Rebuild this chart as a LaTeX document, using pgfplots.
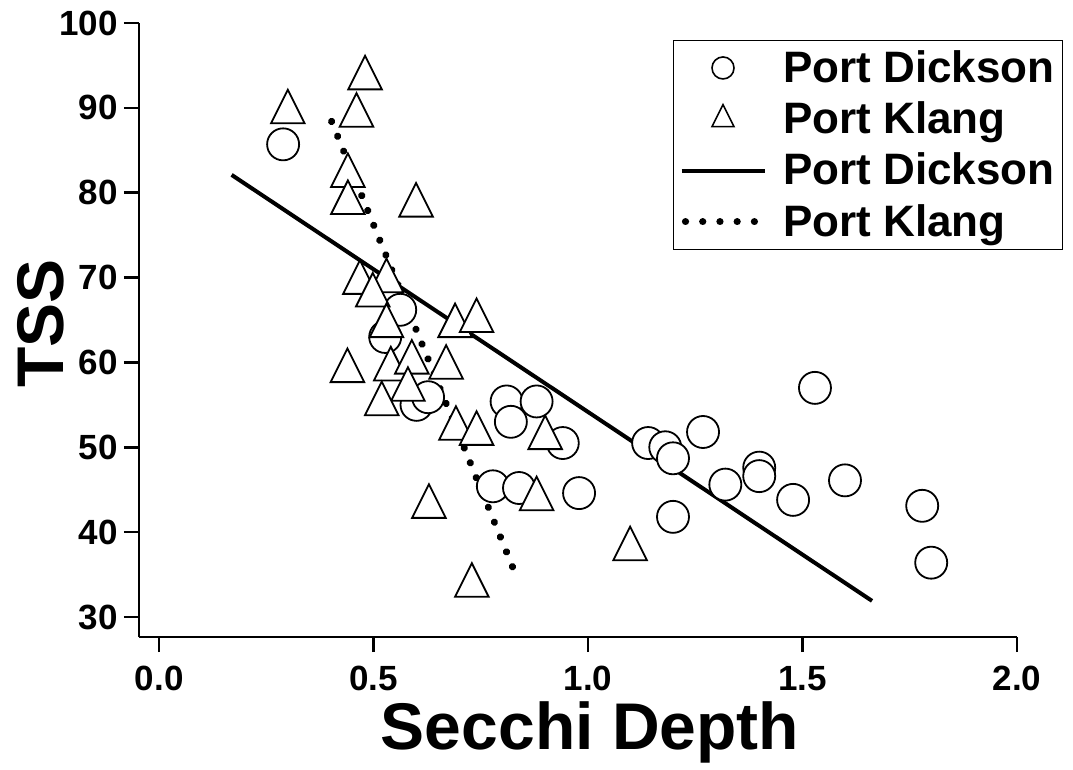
\documentclass[border=0pt]{standalone}
\usepackage{fontspec}
\setmainfont{Liberation Sans}
\usepackage{pgfplots}
\pgfplotsset{compat=1.18}
\pgfdeclareplotmark{tri}{%
  \pgfpathmoveto{\pgfqpoint{0pt}{1.3333\pgfplotmarksize}}%
  \pgfpathlineto{\pgfqpoint{-\pgfplotmarksize}{-0.6667\pgfplotmarksize}}%
  \pgfpathlineto{\pgfqpoint{\pgfplotmarksize}{-0.6667\pgfplotmarksize}}%
  \pgfpathclose
  \pgfusepathqfillstroke}
\begin{document}
\begin{tikzpicture}
\begin{axis}[
  name=ax,
  scale only axis, width=439pt, height=307pt,
  xmin=-0.047, xmax=2.0, ymin=27.64, ymax=100,
  axis lines=left, axis line style={-, line width=1.3pt},
  xtick={0,0.5,1,1.5,2}, ytick={30,40,50,60,70,80,90,100},
  tick align=outside, major tick length=7.5pt,
  tick style={line width=1.3pt, black},
  /pgf/number format/assume math mode=true,
  every tick label/.append style={font=\fontsize{17.5}{20}\selectfont\bfseries},
  xticklabel style={/pgf/number format/fixed, /pgf/number format/fixed zerofill, /pgf/number format/precision=1, inner sep=0pt, anchor=north, yshift=-7pt},
  yticklabel style={inner sep=0pt, anchor=east, xshift=-3pt},
  xlabel={Secchi Depth},
  ylabel={TSS},
  xlabel style={at={(axis description cs:0.5137,-0.184)}, anchor=base, font=\fontsize{33}{36}\selectfont\bfseries},
  ylabel style={at={(axis description cs:-0.1116,0.511)}, anchor=center, rotate=0, font=\fontsize{33}{36}\selectfont\bfseries},
  legend style={at={(rel axis cs:1.0524,0.9723)}, anchor=north east, draw=black, line width=0.5pt,
    font=\fontsize{22}{24}\selectfont\bfseries, row sep=4.2pt, inner xsep=2pt, inner ysep=3pt},
  legend cell align=left,
  clip=false,
]
% Port Dickson circles
\addplot[only marks, mark=*, mark size=8pt, mark options={fill=white, draw=black, line width=0.9pt},
  legend image code/.code={\path (0pt,0pt) (47pt,0pt); \draw[line width=0.8pt, fill=white] (20.75pt,0pt) circle (5.5pt);}]
coordinates {
(0.289,85.7) (0.562,66.2) (0.527,63.0) (0.600,55.0) (0.627,55.9)
(0.810,55.4) (0.880,55.4) (0.820,53.0) (0.941,50.5) (0.778,45.4)
(0.839,45.2) (0.979,44.6) (1.140,50.5) (1.180,50.0) (1.198,48.7)
(1.268,51.8) (1.198,41.8) (1.320,45.6) (1.399,47.6) (1.399,46.6)
(1.478,43.8) (1.529,57.0) (1.599,46.1) (1.779,43.1) (1.800,36.4)
};
\addlegendentry{Port Dickson}
% Port Klang triangles
\addplot[only marks, mark=tri, mark size=8.4pt, mark options={fill=white, draw=black, line width=0.9pt},
  legend image code/.code={\path (0pt,0pt) (47pt,0pt); \draw[line width=0.8pt, fill=white] (20.75pt,7.3pt) -- (15.25pt,-3.7pt) -- (26.25pt,-3.7pt) -- cycle;}]
coordinates {
(0.480,93.5) (0.460,89.1) (0.300,89.5) (0.440,82.0) (0.440,78.8)
(0.599,78.5) (0.468,69.4) (0.530,69.6) (0.498,67.9) (0.690,64.3)
(0.740,64.9) (0.530,64.3) (0.439,59.0) (0.540,59.2) (0.589,60.0)
(0.669,59.4) (0.580,56.8) (0.519,55.1) (0.692,52.2) (0.740,51.6)
(0.900,51.1) (0.629,43.0) (0.880,43.9) (0.729,33.7) (1.098,38.0)
};
\addlegendentry{Port Klang}
% regression lines
\addplot[black, line width=2pt, no marks,
  legend image code/.code={\draw[line width=2pt] (0pt,0pt) -- (41.5pt,0pt); \path (0pt,0pt) (47pt,0pt);}]
coordinates {(0.169,82.1) (1.662,31.9)};
\addlegendentry{Port Dickson}
\addplot[black, line width=3.6pt, line cap=round, dash pattern=on 0.01pt off 8pt, no marks,
  legend image code/.code={\draw[line width=3.6pt, line cap=round, dash pattern=on 0.01pt off 8.6pt] (2pt,0pt) -- (39.5pt,0pt); \path (0pt,0pt) (47pt,0pt);}]
coordinates {(0.402,88.4) (0.830,35.15)};
\addlegendentry{Port Klang}
\end{axis}
\pgfresetboundingbox
\path[use as bounding box] ([shift={(-69.5pt,-66pt)}]ax.south west) rectangle ([shift={(28pt,11.5pt)}]ax.north east);
\end{tikzpicture}
\end{document}
